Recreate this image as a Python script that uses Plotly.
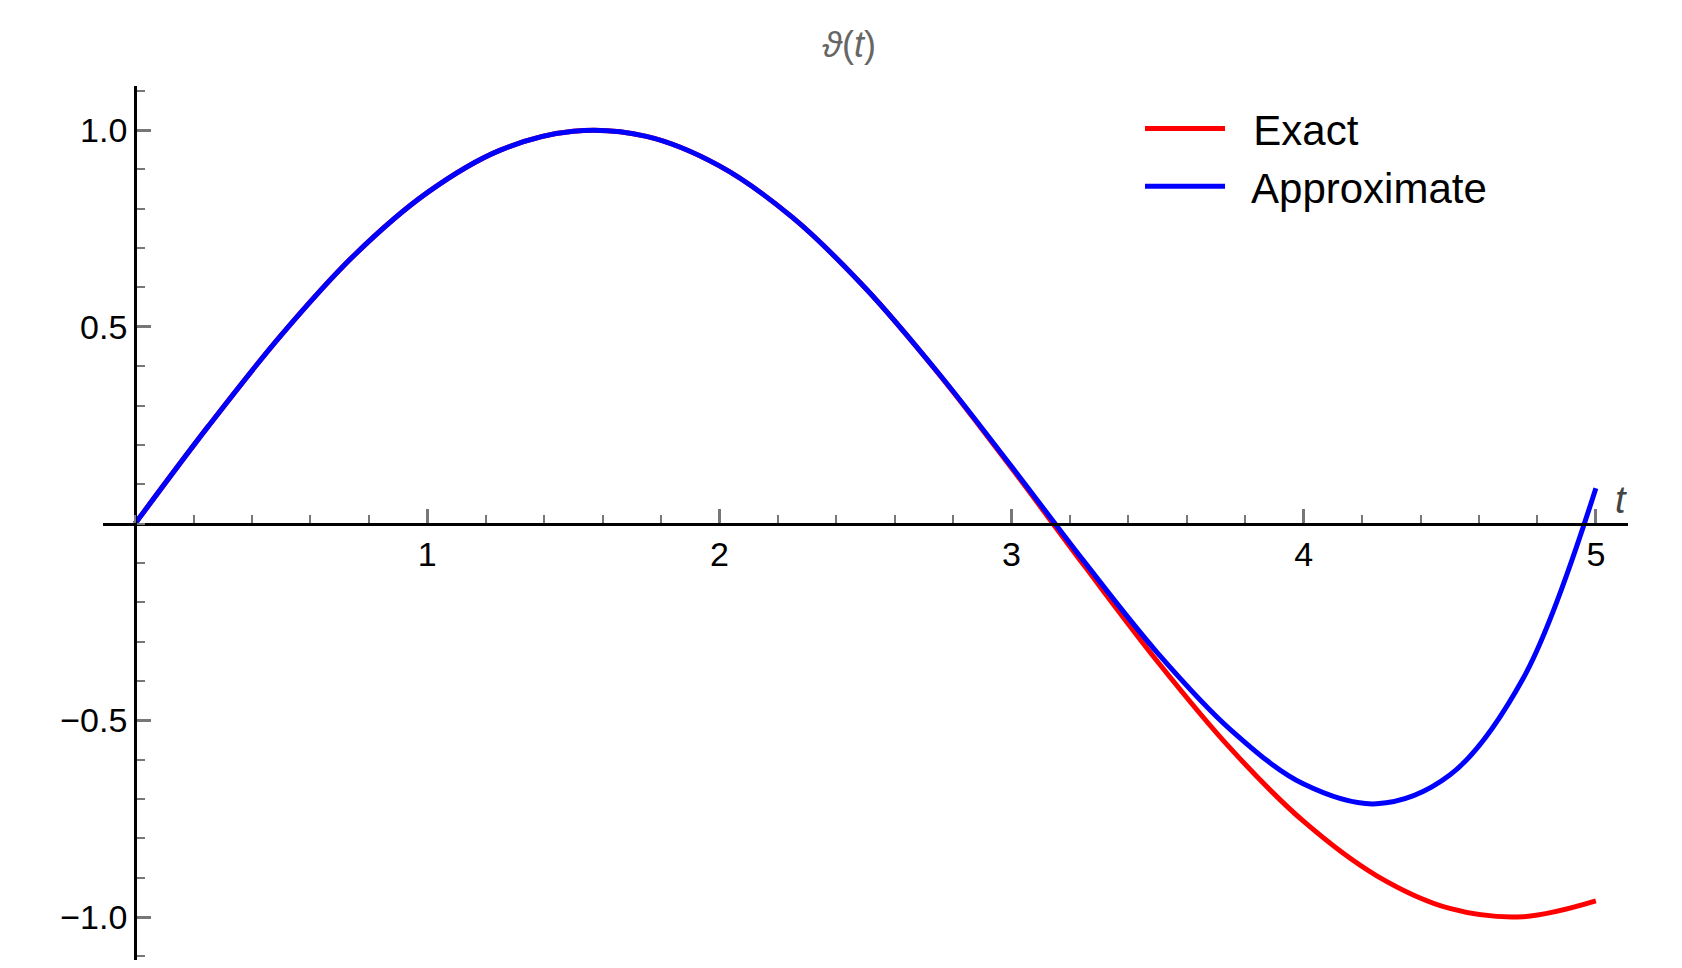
import plotly.graph_objects as go

t = [0, 0.25, 0.5, 0.75, 1.0, 1.25, 1.5, 1.75, 2.0, 2.25, 2.5, 2.75, 3.0, 3.25, 3.5, 3.75, 4.0, 4.25, 4.5, 4.75, 5.0]
exact = [0, 0.247, 0.479, 0.682, 0.841, 0.949, 0.997, 0.984, 0.909, 0.778, 0.598, 0.381, 0.141, -0.108, -0.351, -0.572, -0.757, -0.895, -0.978, -0.999, -0.959]
approx = [0, 0.247, 0.479, 0.682, 0.841, 0.949, 0.997, 0.984, 0.909, 0.778, 0.598, 0.382, 0.145, -0.098, -0.329, -0.524, -0.662, -0.712, -0.639, -0.395, 0.090]
xticks = [1, 2, 3, 4, 5]
yticks = [-1.0, -0.5, 0.5, 1.0]
yticklabels = ["\u22121.0", "\u22120.5", "0.5", "1.0"]

fig = go.Figure()
fig.add_trace(go.Scatter(x=t, y=exact, mode="lines", name="  Exact",
                         line=dict(color="#ff0000", width=5, shape="spline")))
fig.add_trace(go.Scatter(x=t, y=approx, mode="lines", name="  Approximate",
                         line=dict(color="#0000ff", width=5, shape="spline")))

xr = [-0.11, 5.11]
yr = [-1.109, 1.112]
fig.update_layout(
    width=1682, height=968, plot_bgcolor="white", paper_bgcolor="white",
    margin=dict(l=95, r=62, t=78, b=16),
    font=dict(family="Liberation Sans, Arial", size=34, color="black"),
    title=dict(text="<i>\u03d1</i>(<i>t</i>)", x=0.5, xanchor="center", y=0.975,
               font=dict(size=36, color="#666666")),
    xaxis=dict(range=xr, anchor="free", position=(0 - yr[0]) / (yr[1] - yr[0]),
               showline=True, linecolor="black", linewidth=3, showgrid=False, zeroline=False,
               tickvals=xticks, ticks="inside", ticklen=14, tickwidth=3, tickcolor="#777",
               minor=dict(dtick=0.2, ticks="inside", ticklen=8, tickcolor="#777", tickwidth=2),
               tickfont=dict(size=34)),
    yaxis=dict(range=yr, anchor="free", position=(0 - xr[0]) / (xr[1] - xr[0]),
               showline=True, linecolor="black", linewidth=3, showgrid=False, zeroline=False,
               tickvals=yticks, ticktext=yticklabels, ticks="inside", ticklen=14,
               tickwidth=3, tickcolor="#777",
               minor=dict(dtick=0.1, ticks="inside", ticklen=8, tickcolor="#777", tickwidth=2),
               tickfont=dict(size=34)),
    legend=dict(x=0.68, y=0.99, xanchor="left", yanchor="top", bgcolor="rgba(0,0,0,0)",
                font=dict(size=42), itemwidth=80, tracegroupgap=20),
    showlegend=True,
)
fig.add_annotation(x=0.99, y=0.5, xref="paper", yref="paper", text="<i>t</i>", showarrow=False,
                   xanchor="left", yanchor="bottom", font=dict(size=38, color="#444"))
fig.write_html("out.html")
